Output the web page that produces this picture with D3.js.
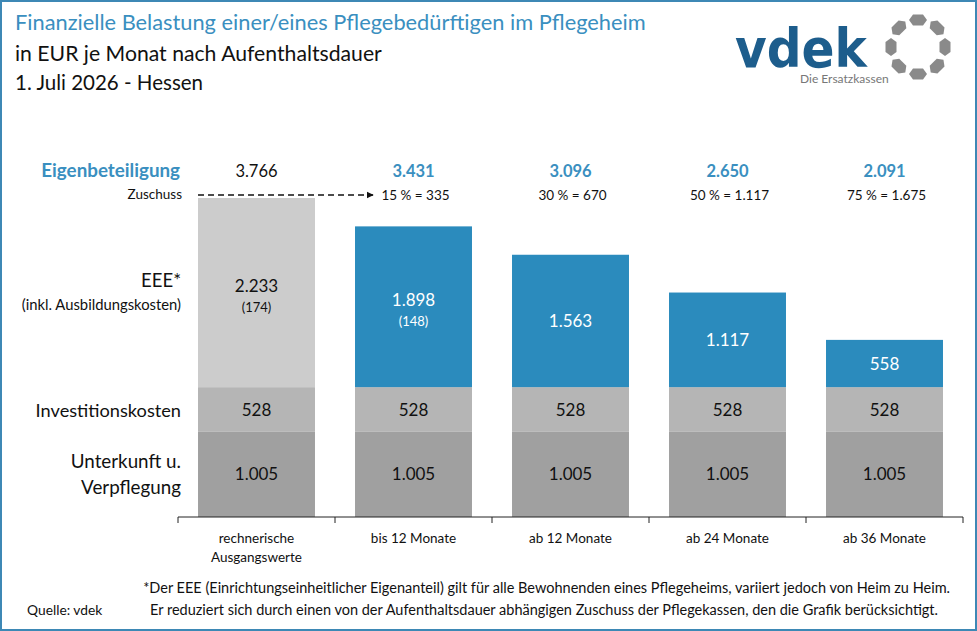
<!DOCTYPE html>
<html><head><meta charset="utf-8">
<script src="https://cdn.jsdelivr.net/npm/d3@7"></script>
<style>
html,body{margin:0;padding:0;background:#fff;}
svg{display:block;}
</style></head>
<body>
<svg id="chart" width="977" height="631"></svg>
<script>
// ---- data ----
const categories = ["rechnerische|Ausgangswerte", "bis 12 Monate", "ab 12 Monate", "ab 24 Monate", "ab 36 Monate"];
const unterkunft = [1005, 1005, 1005, 1005, 1005];
const investition = [528, 528, 528, 528, 528];
const eee = [2233, 1898, 1563, 1117, 558];
const ausbildung = [174, 148, null, null, null];
const eigenbeteiligung = [3766, 3431, 3096, 2650, 2091];
const zuschussLabels = ["", "15 % = 335", "30 % = 670", "50 % = 1.117", "75 % = 1.675"];
const rowLabels = [
  {key: "eee", lines: ["EEE*", "(inkl. Ausbildungskosten)"]},
  {key: "investition", lines: ["Investitionskosten"]},
  {key: "unterkunft", lines: ["Unterkunft u.", "Verpflegung"]}
];
const titleLines = ["Finanzielle Belastung einer/eines Pflegebedürftigen im Pflegeheim", "in EUR je Monat nach Aufenthaltsdauer", "1. Juli 2026 - Hessen"];
const footnoteLines = ["*Der EEE (Einrichtungseinheitlicher  Eigenanteil) gilt für alle Bewohnenden eines Pflegeheims, variiert jedoch von Heim zu Heim.",
  "Er reduziert sich durch einen von der Aufenthaltsdauer abhängigen Zuschuss der Pflegekassen, den die Grafik berücksichtigt."];
const sourceLabel = "Quelle: vdek";

// ---- setup ----
const FONT2 = "Lato, 'Open Sans', sans-serif";
const BLUE = "#2b8bbd";
const TBLUE = "#3a8fc0";
const svg = d3.select("#chart");
const de = d3.formatLocale({decimal: ",", thousands: ".", grouping: [3], currency: ["", " €"]});
const fmt = de.format(",");

svg.append("rect").attr("x", 1).attr("y", 1).attr("width", 975).attr("height", 629)
  .attr("fill", "#fff").attr("stroke", "#3d88b5").attr("stroke-width", 2);

const table = categories.map((c, i) => ({cat: c, unterkunft: unterkunft[i], investition: investition[i], eee: eee[i]}));
const keys = ["unterkunft", "investition", "eee"];
const stack = d3.stack().keys(keys)(table);

const x = d3.scaleBand().domain(categories).range([178, 963]).paddingInner(0.255).paddingOuter(0.1275);
const y = d3.scaleLinear().domain([0, 3766]).range([517, 198]);

const colorFor = (key, i) => {
  if (key === "unterkunft") return "#a0a0a0";
  if (key === "investition") return "#b5b5b5";
  return i === 0 ? "#cccccc" : BLUE;
};

// bars
const layers = svg.append("g").selectAll("g").data(stack).join("g");
layers.selectAll("rect").data(d => d.map((v, i) => ({v, i, key: d.key}))).join("rect")
  .attr("x", d => x(categories[d.i]))
  .attr("width", x.bandwidth())
  .attr("y", d => y(d.v[1]))
  .attr("height", d => y(d.v[0]) - y(d.v[1]))
  .attr("fill", d => colorFor(d.key, d.i));

// segment labels
stack.forEach(layer => {
  layer.forEach((v, i) => {
    const cx = x(categories[i]) + x.bandwidth() / 2;
    const cy = (y(v[0]) + y(v[1])) / 2;
    const isBlue = layer.key === "eee" && i > 0;
    const col = isBlue ? "#fff" : "#111";
    const g = svg.append("g").attr("font-family", FONT2).attr("text-anchor", "middle").attr("fill", col);
    if (layer.key === "eee" && ausbildung[i] != null) {
      g.append("text").attr("x", cx).attr("y", cy - 1).attr("font-size", 17).text(fmt(v[1] - v[0]));
      g.append("text").attr("x", cx).attr("y", cy + 19).attr("font-size", 13).text("(" + ausbildung[i] + ")");
    } else {
      g.append("text").attr("x", cx).attr("y", cy + 6).attr("font-size", 17).text(fmt(v[1] - v[0]));
    }
  });
});

// axis
const axis = d3.axisBottom(x).tickSize(0).tickFormat("");
const ag = svg.append("g").attr("transform", "translate(0,517)").call(axis);
ag.select(".domain").attr("stroke", "#222").attr("d", "M178,6V0H963V6");
x.domain().forEach((c, i) => {
  const tx = x(c) - x.step() * x.paddingInner() / 2;
  if (i > 0) ag.append("line").attr("x1", tx).attr("x2", tx).attr("y1", 0).attr("y2", 6).attr("stroke", "#222");
});
categories.forEach(c => {
  const lines = c.split("|");
  const t = svg.append("text").attr("text-anchor", "middle").attr("font-family", FONT2).attr("font-size", 13.5).attr("fill", "#111");
  lines.forEach((l, j) => t.append("tspan").attr("x", x(c) + x.bandwidth() / 2).attr("y", 543 + j * 19).text(l));
});

// Eigenbeteiligung totals
svg.append("text").attr("x", 180).attr("y", 177).attr("text-anchor", "end").attr("font-family", FONT2)
  .attr("font-size", 18.8).attr("font-weight", "bold").attr("fill", TBLUE).text("Eigenbeteiligung");
eigenbeteiligung.forEach((v, i) => {
  svg.append("text").attr("x", x(categories[i]) + x.bandwidth() / 2).attr("y", 177).attr("text-anchor", "middle")
    .attr("font-family", FONT2).attr("font-size", 16.5).attr("font-weight", i === 0 ? "normal" : "bold")
    .attr("fill", i === 0 ? "#111" : TBLUE).text(fmt(v));
  if (zuschussLabels[i]) {
    svg.append("text").attr("x", x(categories[i]) + x.bandwidth() / 2 + 2).attr("y", 200).attr("text-anchor", "middle")
      .attr("font-family", FONT2).attr("font-size", 13.5).attr("fill", "#111").text(zuschussLabels[i]);
  }
});
svg.append("text").attr("x", 182).attr("y", 199).attr("text-anchor", "end").attr("font-family", FONT2)
  .attr("font-size", 13.5).attr("fill", "#111").text("Zuschuss");

// dashed arrow
const defs = svg.append("defs");
defs.append("marker").attr("id", "arr").attr("viewBox", "0 0 10 10").attr("refX", 9).attr("refY", 5)
  .attr("markerWidth", 4.5).attr("markerHeight", 4.5).attr("orient", "auto")
  .append("path").attr("d", "M0,0L10,5L0,10Z").attr("fill", "#111");
svg.append("line").attr("x1", x(categories[0])).attr("x2", x(categories[1]) + 18).attr("y1", 195).attr("y2", 195)
  .attr("stroke", "#111").attr("stroke-width", 1.6).attr("stroke-dasharray", "6,4").attr("marker-end", "url(#arr)");

// row labels
const rowY = {eee: [287, 310], investition: [417], unterkunft: [468, 494]};
const rowSize = {eee: [18.5, 14.8], investition: [18.2], unterkunft: [18.8, 18.8]};
rowLabels.forEach(r => {
  r.lines.forEach((l, j) => {
    svg.append("text").attr("x", 181).attr("y", rowY[r.key][j]).attr("text-anchor", "end")
      .attr("font-family", FONT2).attr("font-size", rowSize[r.key][j]).attr("fill", "#111").text(l);
  });
});

// titles
svg.append("text").attr("x", 15).attr("y", 30).attr("font-family", FONT2).attr("font-size", 21.8)
  .attr("fill", TBLUE).text(titleLines[0]);
svg.append("text").attr("x", 15).attr("y", 61).attr("font-family", FONT2).attr("font-size", 21.2)
  .attr("fill", "#111").text(titleLines[1]);
svg.append("text").attr("x", 15).attr("y", 90).attr("font-family", FONT2).attr("font-size", 20.5)
  .attr("fill", "#111").text(titleLines[2]);

// footnotes
svg.append("text").attr("x", 950).attr("y", 593).attr("text-anchor", "end").attr("font-family", FONT2)
  .attr("font-size", 14.5).attr("fill", "#111").text(footnoteLines[0]);
svg.append("text").attr("x", 938).attr("y", 615).attr("text-anchor", "end").attr("font-family", FONT2)
  .attr("font-size", 14.5).attr("fill", "#111").text(footnoteLines[1]);
svg.append("text").attr("x", 27).attr("y", 615).attr("font-family", FONT2)
  .attr("font-size", 13.8).attr("fill", "#111").text(sourceLabel);

// logo (word mark and tagline as one text element)
const logo = svg.append("g");
const logoText = logo.append("text");
logoText.append("tspan").attr("x", 735).attr("y", 67).attr("font-family", "'DejaVu Sans', sans-serif").attr("font-weight", "bold")
  .attr("font-size", 54).attr("fill", "#1d5d8c").attr("textLength", 132).attr("lengthAdjust", "spacingAndGlyphs").text("vdek");
logoText.append("tspan").attr("x", 800).attr("y", 83).attr("font-family", FONT2).attr("font-size", 12)
  .attr("fill", "#777").text("Die Ersatzkassen");
const ringC = [918, 47], ringR = 27;
const hex = "M-9,0L-5,-5.5L5,-5.5L9,0L5,5.5L-5,5.5Z";
d3.range(8).forEach(k => {
  const a = (k / 8) * 2 * Math.PI - Math.PI / 2;
  const px = ringC[0] + ringR * Math.cos(a), py = ringC[1] + ringR * Math.sin(a);
  logo.append("path").attr("d", hex)
    .attr("transform", `translate(${px},${py}) rotate(${a * 180 / Math.PI + 90})`)
    .attr("fill", "#8a8a8a");
});
</script>
</body></html>
